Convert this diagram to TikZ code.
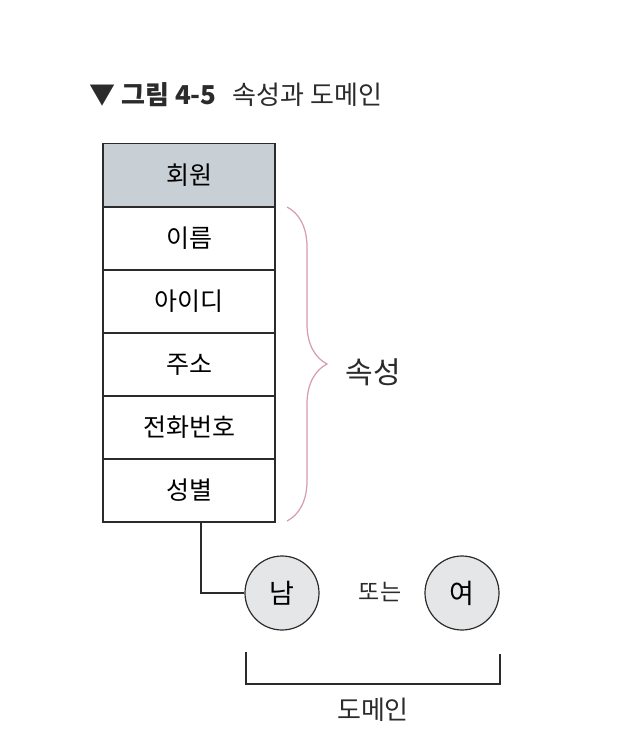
\documentclass[tikz,border=0pt]{standalone}
\usepackage{fontspec}
\setmainfont{Noto Sans CJK KR}
\usepackage{tikz}
\usetikzlibrary{calc,positioning,decorations.pathreplacing}
\definecolor{khead}{HTML}{C8CFD5}
\definecolor{kpink}{HTML}{D89AAE}
\definecolor{kcirc}{HTML}{E4E6E8}
\definecolor{kink}{HTML}{2B2B2B}
\tikzset{
  kcell/.style={rectangle, draw=kink, fill=white, line width=1.2pt,
                minimum width=172pt, minimum height=63pt, inner sep=0pt,
                font=\fontsize{25}{28}\selectfont},
  khdr/.style={kcell, fill=khead},
  kval/.style={circle, draw=kink, fill=kcirc, line width=1.2pt,
               minimum size=74pt, inner sep=0pt, font=\fontsize{27}{30}\selectfont},
  klbl/.style={text=kink, font=\fontsize{23}{26}\selectfont},
  kline/.style={draw=kink, line width=1.2pt},
  kbrace/.style={draw=kpink, line width=1.2pt,
                 decorate, decoration={brace, amplitude=40pt}},
}
\begin{document}
\begin{tikzpicture}[x=1pt,y=-1pt]
  \useasboundingbox[fill=white] (0,0) rectangle (643,755);

  % title
  \node[anchor=west, text=kink, font=\fontsize{26}{30}\selectfont] (ttl) at (86,95)
       {▼ \textbf{그림 4-5}\hspace{16pt}속성과 도메인};

  % table
  \node[khdr]  (head)   at (189,175) {회원};
  \node[kcell] (name)   at (189,238.5) {이름};
  \node[kcell] (id)     at (189,301.5) {아이디};
  \node[kcell] (addr)   at (189,364.5) {주소};
  \node[kcell] (phone)  at (189,427.5) {전화번호};
  \node[kcell] (gender) at (189,490.5) {성별};

  % attributes brace
  \coordinate (bt) at (287,207);
  \coordinate (bb) at (287,521);
  \draw[kbrace] (bt) -- (bb);
  \node[klbl, font=\fontsize{30}{34}\selectfont] (attr) at (373,372) {속성};

  % domain values
  \node[kval] (male)   at (282,593) {남};
  \node[kval] (female) at (462,593) {여};
  \node[klbl] (or) at (380,592) {또는};

  \coordinate (g) at (201,522);
  \draw[kline] (g) |- (male.west);

  % domain bracket
  \coordinate (dl) at (246,652);
  \coordinate (dr) at (500,654);
  \draw[kline] (dl) -- (246,684) -- (500,684) -- (dr);
  \node[klbl, font=\fontsize{26}{30}\selectfont] (dom) at (373,710) {도메인};

\end{tikzpicture}
\end{document}
